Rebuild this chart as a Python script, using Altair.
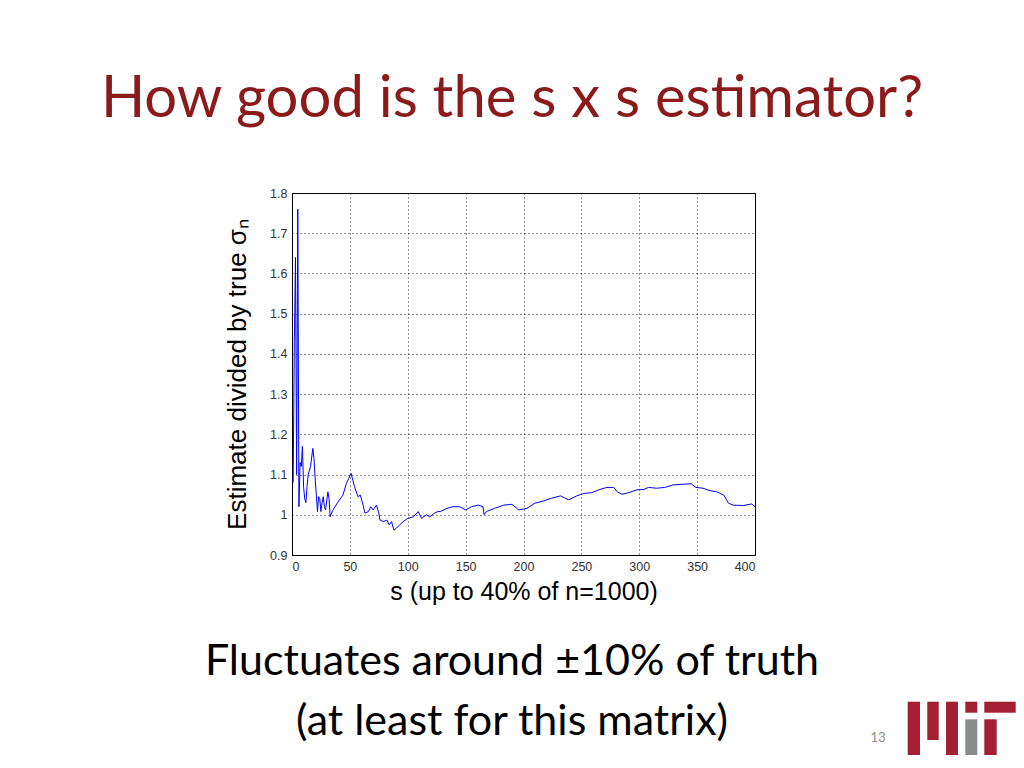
import altair as alt
import pandas as pd

# ---- data ----
s_vals = [1, 2, 3, 4, 5, 6, 7, 8, 9, 10, 11, 12, 13, 14, 16, 18, 19, 20, 21, 22,
          23, 24, 25, 26, 27, 28, 29, 31, 32, 33, 35, 38, 41, 44, 47, 49, 51,
          54, 57, 59, 61, 63, 66, 68, 70, 73, 75, 76, 79, 82, 84, 86, 88, 90,
          93, 96, 100, 105, 109, 112, 116, 119, 123, 126,
          128, 134, 139, 145, 150, 155, 161, 165, 166, 168, 175, 183, 190, 196,
          203, 210, 217, 224, 232, 239, 246, 252, 259, 266, 272, 278, 281, 285,
          291, 298, 304, 308, 315, 322, 329, 338, 345, 349, 355, 361, 367, 373,
          377, 381, 390, 397, 400]
ratio_vals = [1.08, 1.43, 1.64, 1.10, 1.76, 1.02, 1.13, 1.12, 1.17, 1.07, 1.04, 1.03,
              1.07, 1.10, 1.12, 1.165, 1.14, 1.09, 1.05, 1.008, 1.045, 1.04, 1.008,
              1.03, 1.045, 1.02, 1.012, 1.057, 1.04, 0.995, 1.01, 1.024, 1.037, 1.049,
              1.078, 1.09, 1.103,
              1.07, 1.045, 1.049, 1.029, 1.004, 1.008, 1.02, 1.012, 1.024, 1.004,
              0.987, 0.983, 0.987, 0.975, 0.983, 0.962, 0.966, 0.975, 0.983, 0.991,
              0.995, 1.008, 0.991, 1.0, 0.995, 1.004, 1.008,
              1.008, 1.016, 1.02, 1.02, 1.012, 1.02, 1.024, 1.02, 1.0, 1.008, 1.016,
              1.024, 1.026, 1.012, 1.016, 1.029, 1.034, 1.041, 1.047, 1.037, 1.047,
              1.053, 1.055, 1.063, 1.068, 1.068, 1.057, 1.051, 1.055, 1.062, 1.063,
              1.068, 1.066, 1.068, 1.074, 1.076, 1.077, 1.068, 1.066, 1.06, 1.057,
              1.049, 1.029, 1.024, 1.023, 1.027, 1.02]

x_ticks = [0, 50, 100, 150, 200, 250, 300, 350, 400]
y_ticks = [0.9, 1.0, 1.1, 1.2, 1.3, 1.4, 1.5, 1.6, 1.7, 1.8]

title_text = "How good is the s x s estimator?"
body_line1 = "Fluctuates around ±10% of truth"
body_line2 = "(at least for this matrix)"
page_number = "13"
x_title = "s (up to 40% of n=1000)"
y_title = "Estimate divided by true σₙ"

df = pd.DataFrame({"s": s_vals, "ratio": ratio_vals})

W, H = 463, 362

line = alt.Chart(df).mark_line(color="#0000FF", strokeWidth=1).encode(
    x=alt.X("s:Q", scale=alt.Scale(domain=[0, 400], nice=False),
            axis=alt.Axis(values=x_ticks, title=x_title, grid=True, ticks=False,
                          labelPadding=5, titlePadding=7)),
    y=alt.Y("ratio:Q", scale=alt.Scale(domain=[0.9, 1.8], nice=False, zero=False),
            axis=alt.Axis(values=y_ticks, format="~g", title=y_title, grid=True,
                          ticks=False, labelPadding=5, titlePadding=19,
                          titleFontSize=26)),
)

one = alt.Data(values=[{}])

def text_layer(txt, x, y, size, color, align="center", font="Lato"):
    return alt.Chart(one).mark_text(text=txt, fontSize=size, color=color, font=font,
                                    align=align, baseline="middle").encode(
        x=alt.value(x), y=alt.value(y))

title = text_layer(title_text, 220, -93, 58, "#8B1A1A")
body1 = text_layer(body_line1, 220, 469, 43, "#000000")
body2 = text_layer(body_line2, 220, 529, 43, "#000000")
pnum = text_layer(page_number, 586, 545, 13, "#8C8C8C")

def rect(x1, y1, x2, y2, color):
    return alt.Chart(one).mark_rect(color=color).encode(
        x=alt.value(x1 - 292), x2=alt.value(x2 - 292),
        y=alt.value(y1 - 193), y2=alt.value(y2 - 193))

red, grey = "#A31F34", "#8A8B8C"
logo = [
    rect(907.7, 701.7, 920, 757.7, red),
    rect(927.3, 701.7, 938.7, 740, red),
    rect(946, 701.7, 958, 757.7, red),
    rect(965.3, 701.7, 977.3, 712.7, red),
    rect(965.3, 719.3, 977.3, 757.7, grey),
    rect(984.3, 701.7, 1015.7, 712.7, red),
    rect(984.3, 719.3, 996.7, 757.7, red),
]

chart = alt.layer(line, title, body1, body2, pnum, *logo).properties(
    width=W, height=H,
    autosize=alt.AutoSizeParams(type="none"),
    padding={"left": 284, "top": 185, "right": 261, "bottom": 200},
    background="white",
).configure_view(stroke="#000000", strokeWidth=1).configure_axis(
    domainColor="#000000", gridColor="#000000", gridDash=[1, 3], gridOpacity=0.85,
    labelFont="Liberation Sans", labelFontSize=12.5, labelColor="#333333",
    titleFont="Liberation Sans", titleFontSize=25, titleFontWeight="normal",
    titleColor="#000000",
)

chart.save("out.html", embed_options={"renderer": "svg", "actions": False})
